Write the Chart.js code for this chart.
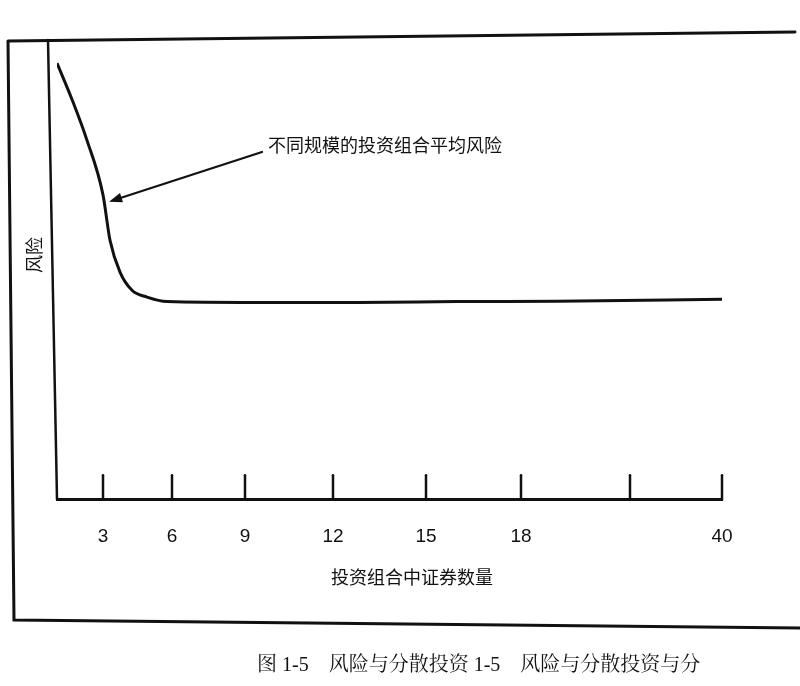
<!DOCTYPE html>
<html><head><meta charset="utf-8">
<script src="https://cdn.jsdelivr.net/npm/chart.js@4/dist/chart.umd.min.js"></script>
<style>html,body{margin:0;padding:0;background:#fff}#w{width:800px;height:686px;position:relative}</style>
</head><body><div id="w"><canvas id="c"></canvas></div>
<script>
// x positions (axis units) and risk values
const curveX = [0, 15, 30, 46, 53, 63, 75, 90, 110, 200, 300, 400, 500, 665];
const riskValues = [96, 88, 79, 67, 57, 50, 46, 44.5, 43.5, 43.3, 43.3, 43.5, 43.6, 44];
const tickPositions = [46, 115, 188, 276, 369, 464, 573, 665];
const tickLabels = ['3', '6', '9', '12', '15', '18', '', '40'];
const seriesLabel = '不同规模的投资组合平均风险';
const xTitle = '投资组合中证券数量';
const yTitle = '风险';
const caption = '图 1-5　风险与分散投资 1-5　风险与分散投资与分';

const CJK = '"Noto Sans CJK SC", "Liberation Sans", sans-serif';
const deco = {
  id: 'deco',
  afterDraw(chart) {
    const ctx = chart.ctx, x = chart.scales.x, y = chart.scales.y;
    ctx.save();
    ctx.strokeStyle = '#111'; ctx.lineCap = 'round';
    ctx.lineWidth = 3;
    ctx.beginPath();
    ctx.moveTo(8, 41); ctx.lineTo(795, 32);
    ctx.moveTo(8, 41); ctx.lineTo(14, 620);
    ctx.lineTo(800, 628);
    ctx.stroke();
    ctx.lineWidth = 2.5;
    ctx.beginPath();
    ctx.moveTo(48, 40); ctx.lineTo(57, x.top);
    ctx.stroke();
    tickPositions.forEach(v => {
      const px = x.getPixelForValue(v);
      ctx.beginPath(); ctx.moveTo(px, x.top); ctx.lineTo(px, x.top - 24); ctx.stroke();
    });
    const ax = x.getPixelForValue(52), ay = y.getPixelForValue(65.5);
    const sx = 262, sy = 152;
    ctx.lineWidth = 2.2;
    ctx.beginPath(); ctx.moveTo(sx, sy); ctx.lineTo(ax + 6, ay - 2); ctx.stroke();
    const ang = Math.atan2(ay - sy, ax - sx);
    ctx.fillStyle = '#111';
    ctx.beginPath();
    ctx.moveTo(ax, ay);
    ctx.lineTo(ax - 14 * Math.cos(ang - 0.35), ay - 14 * Math.sin(ang - 0.35));
    ctx.lineTo(ax - 14 * Math.cos(ang + 0.35), ay - 14 * Math.sin(ang + 0.35));
    ctx.closePath(); ctx.fill();
    ctx.fillStyle = '#111';
    ctx.font = '18px ' + CJK;
    ctx.textBaseline = 'middle'; ctx.textAlign = 'left';
    ctx.fillText(seriesLabel, 268, 145);
    ctx.textAlign = 'center';
    ctx.fillText(xTitle, 412, 577);
    ctx.save();
    ctx.translate(34, 255); ctx.rotate(-Math.PI / 2);
    ctx.fillText(yTitle, 0, 0);
    ctx.restore();
    ctx.font = '20px "Liberation Serif", "Noto Serif CJK SC", "Noto Sans CJK SC", serif';
    ctx.textAlign = 'left';
    ctx.fillText(caption, 257, 666);
    ctx.restore();
  }
};

new Chart(document.getElementById('c'), {
  type: 'line',
  data: { datasets: [{
    label: seriesLabel,
    data: curveX.map((v, i) => ({ x: v, y: riskValues[i] })),
    borderColor: '#111', borderWidth: 3, pointRadius: 0, tension: 0.4,
    cubicInterpolationMode: 'monotone', fill: false
  }]},
  options: {
    responsive: true, maintainAspectRatio: false, animation: false,
    devicePixelRatio: 1,
    layout: { padding: { left: 57, right: 78, top: 45, bottom: 120 } },
    plugins: { legend: { display: false }, tooltip: { enabled: false } },
    scales: {
      x: {
        type: 'linear', min: 0, max: 665,
        afterBuildTicks: s => { s.ticks = tickPositions.map(v => ({ value: v })); },
        grid: { display: false },
        border: { display: true, color: '#111', width: 3 },
        ticks: {
          padding: 18, color: '#111', autoSkip: false, maxRotation: 0,
          font: { size: 19, family: '"Liberation Sans", Arial, sans-serif' },
          callback: (v, i) => tickLabels[i]
        }
      },
      y: { display: false, min: 0, max: 100 }
    }
  },
  plugins: [deco]
});
</script></body></html>
